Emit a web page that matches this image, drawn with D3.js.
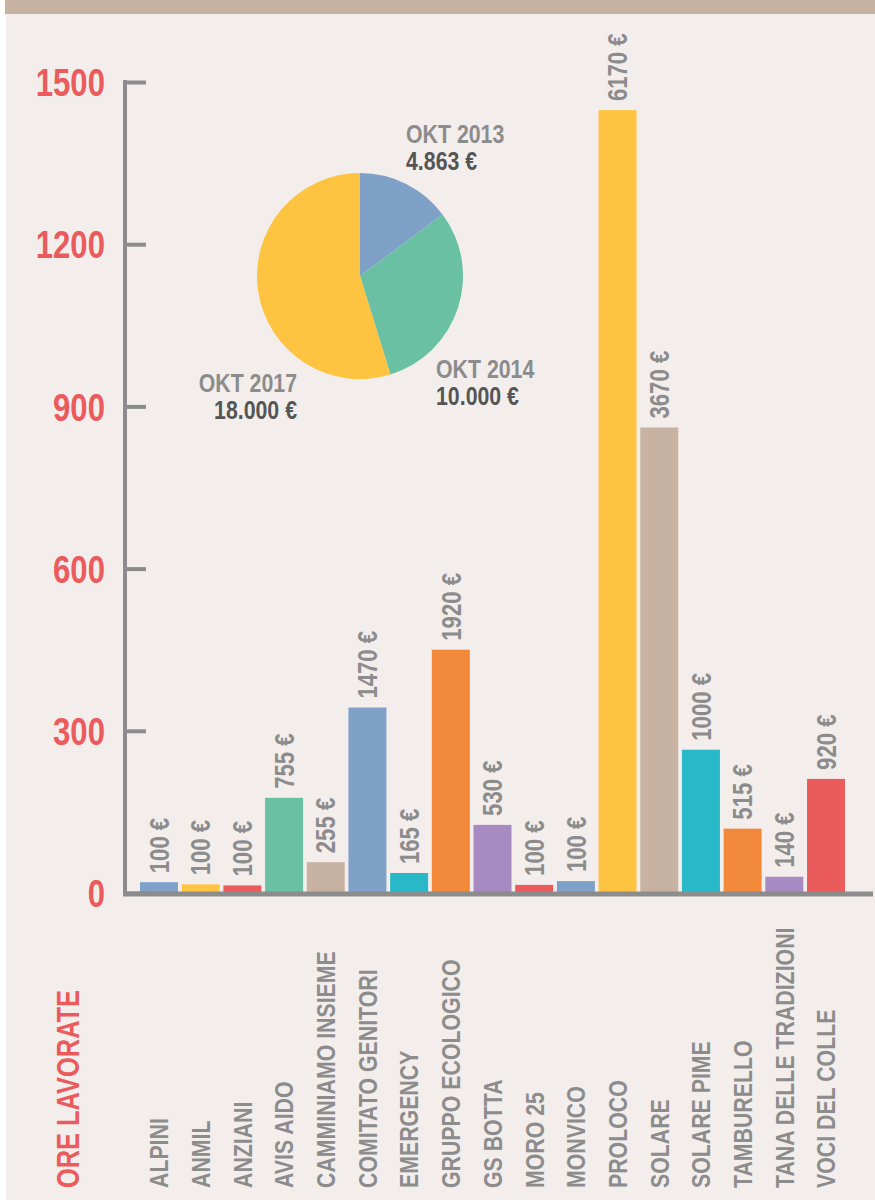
<!DOCTYPE html>
<html>
    <head>
        <meta charset="utf-8">
        <title>Ore lavorate</title>
        <script src="https://d3js.org/d3.v7.min.js"></script>
        <style>
            html, body {
                margin: 0;
                padding: 0;
                background: #FFF;
            }
            svg {
                display: block;
            }
            text {
                font-family: "Liberation Sans", Arial, sans-serif;
                font-weight: bold;
            }
        </style>
    </head>
    <body>
        <svg id="chart" width="875" height="1200"></svg>
        <script>
            // data
            const categories = ['ALPINI', 'ANMIL', 'ANZIANI', 'AVIS AIDO', 'CAMMINIAMO INSIEME', 'COMITATO GENITORI',
                'EMERGENCY', 'GRUPPO ECOLOGICO', 'GS BOTTA', 'MORO 25', 'MONVICO', 'PROLOCO', 'SOLARE',
                'SOLARE PIME', 'TAMBURELLO', 'TANA DELLE TRADIZIONI', 'VOCI DEL COLLE'];
            const hours = [20, 16, 14, 176, 57, 343, 37, 450, 126, 15, 22, 1448, 861, 265, 119, 30, 211];
            const euros = ['100 €', '100 €', '100 €', '755 €', '255 €', '1470 €', '165 €', '1920 €', '530 €',
                '100 €', '100 €', '6170 €', '3670 €', '1000 €', '515 €', '140 €', '920 €'];
            const yTicks = [0, 300, 600, 900, 1200, 1500];

            const pieYears = ['OKT 2013', 'OKT 2014', 'OKT 2017'];
            const pieValues = [4863, 10000, 18000];
            const pieLabels = ['4.863 €', '10.000 €', '18.000 €'];

            // styles
            const palette = {
                blue: '#7FA1C7', yellow: '#FEC441', red: '#EB5B5C', green: '#6AC0A2',
                tan: '#C8B3A2', teal: '#29B8C8', orange: '#F1883A', purple: '#A78AC1'
            };
            const barColors = ['blue', 'yellow', 'red', 'green', 'tan', 'blue', 'teal', 'orange', 'purple',
                'red', 'blue', 'yellow', 'tan', 'teal', 'orange', 'purple', 'red'].map(c => palette[c]);
            const pieColors = [palette.blue, palette.green, palette.yellow];
            const grey = '#8C8C8C';
            const dark = '#555555';
            const narrow = 0.82; // squeeze Liberation Sans to look like Arial Narrow

            const svg = d3.select('#chart');

            svg.append('rect')
                .attr('x', 6).attr('y', 0)
                .attr('width', 869).attr('height', 1200)
                .attr('fill', '#F3EEEC');
            svg.append('rect')
                .attr('x', 5).attr('y', 0)
                .attr('width', 870).attr('height', 14)
                .attr('fill', '#C8B3A2');

            const x = d3.scaleBand()
                .domain(categories)
                .range([140, 845])
                .paddingInner(0.089)
                .paddingOuter(0);
            const y = d3.scaleLinear()
                .domain([0, 1500])
                .range([893, 82]);

            // bars
            const gBars = svg.append('g');
            gBars.selectAll('rect')
                .data(categories)
                .join('rect')
                .attr('x', d => x(d))
                .attr('y', (d, i) => y(hours[i]))
                .attr('width', x.bandwidth())
                .attr('height', (d, i) => y(0) - y(hours[i]))
                .attr('fill', (d, i) => barColors[i]);

            // value labels
            gBars.selectAll('text')
                .data(categories)
                .join('text')
                .attr('transform', (d, i) => `translate(${x(d) + x.bandwidth() / 2},${y(hours[i]) - 9}) rotate(-90) scale(${narrow},1)`)
                .attr('dy', '0.36em')
                .attr('font-size', 27)
                .attr('fill', grey)
                .text((d, i) => euros[i]);

            // y axis
            const yAxis = d3.axisLeft(y)
                .tickValues(yTicks)
                .tickFormat(d3.format('d'))
                .tickSize(-21);
            const gAxis = svg.append('g')
                .attr('transform', 'translate(125,0)')
                .call(yAxis);
            gAxis.select('.domain').remove();
            gAxis.selectAll('.tick line')
                .attr('stroke', grey)
                .attr('stroke-width', 4);
            gAxis.selectAll('.tick text')
                .attr('font-size', 38)
                .attr('font-family', null)
                .attr('fill', palette.red)
                .attr('x', 0)
                .attr('dy', '0.36em')
                .attr('transform', `translate(-20,0) scale(${narrow},1)`);
            gAxis.append('line')
                .attr('x1', 0).attr('x2', 0)
                .attr('y1', y(1500) - 2).attr('y2', y(0))
                .attr('stroke', grey)
                .attr('stroke-width', 4);
            svg.append('line')
                .attr('x1', 123).attr('x2', 873)
                .attr('y1', y(0) + 1).attr('y2', y(0) + 1)
                .attr('stroke', grey)
                .attr('stroke-width', 5);

            // category labels
            svg.append('g')
                .selectAll('text')
                .data(categories)
                .join('text')
                .attr('transform', d => `translate(${x(d) + x.bandwidth() / 2},1188) rotate(-90) scale(${narrow},1)`)
                .attr('dy', '0.36em')
                .attr('font-size', 26)
                .attr('fill', grey)
                .text(d => d);

            svg.append('text')
                .attr('transform', `translate(68,1188) rotate(-90) scale(${narrow},1)`)
                .attr('dy', '0.36em')
                .attr('font-size', 31)
                .attr('fill', palette.red)
                .text('ORE LAVORATE');

            // pie
            const pie = d3.pie().sort(null)(pieValues);
            const arc = d3.arc().innerRadius(0).outerRadius(103);
            svg.append('g')
                .attr('transform', 'translate(360,276)')
                .selectAll('path')
                .data(pie)
                .join('path')
                .attr('d', arc)
                .attr('fill', (d, i) => pieColors[i]);

            const pieLabelPos = [
                {x: 406, y: 143, anchor: 'start'},
                {x: 436, y: 378, anchor: 'start'},
                {x: 297, y: 392, anchor: 'end'}
            ];
            const gPieLabels = svg.append('g');
            pieYears.forEach((year, i) => {
                const p = pieLabelPos[i];
                gPieLabels.append('text')
                    .attr('transform', `translate(${p.x},${p.y}) scale(${narrow},1)`)
                    .attr('text-anchor', p.anchor)
                    .attr('font-size', 26)
                    .attr('fill', grey)
                    .text(year);
                gPieLabels.append('text')
                    .attr('transform', `translate(${p.x},${p.y + 27}) scale(${narrow},1)`)
                    .attr('text-anchor', p.anchor)
                    .attr('font-size', 26)
                    .attr('fill', dark)
                    .text(pieLabels[i]);
            });
        </script>
    </body>
</html>
